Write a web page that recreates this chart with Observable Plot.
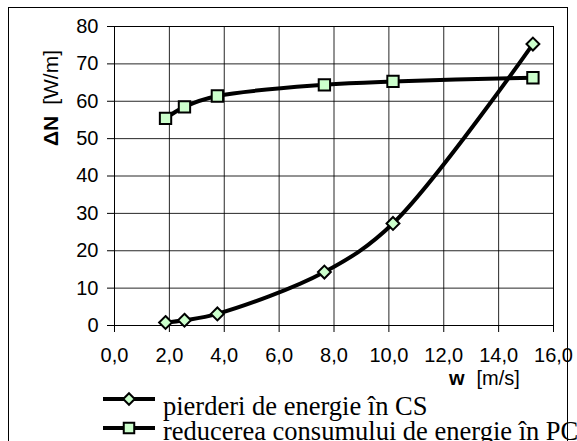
<!DOCTYPE html>
<html><head><meta charset="utf-8">
<script src="https://cdn.jsdelivr.net/npm/d3@7"></script>
<script src="https://cdn.jsdelivr.net/npm/@observablehq/plot@0.6"></script>
<style>
body{margin:0;background:#fff;}
#wrap{position:relative;width:577px;height:441px;overflow:hidden;background:#fff;}
#frame{position:absolute;left:8px;top:7px;width:560px;height:480px;border:1px solid #000;border-bottom:none;box-sizing:border-box;pointer-events:none;}
#legend{position:relative;height:51px;font-family:"Liberation Serif","Times New Roman",serif;font-size:26.5px;color:#000;}
.sym{position:absolute;left:100px;}
.txt{position:absolute;left:163px;white-space:nowrap;line-height:30px;}
</style>
</head><body>
<div id="wrap"><div id="chart"></div><div id="legend"></div><div id="frame"></div></div>
<script>
// data
const wSpeed = [1.86, 2.55, 3.75, 7.65, 10.15, 15.25];
const lossCS = [0.8, 1.4, 3.1, 14.3, 27.3, 75.3];
const reductionPC = [55.4, 58.5, 61.4, 64.4, 65.3, 66.3];
const seriesNames = ["pierderi de energie în CS", "reducerea consumului de energie în PC"];
const xTicks = [0, 2, 4, 6, 8, 10, 12, 14, 16];
const yTicks = [0, 10, 20, 30, 40, 50, 60, 70, 80];

const fill = "#ccffcc";
const cs = wSpeed.map((w, i) => ({w, v: lossCS[i]}));
const pc = wSpeed.map((w, i) => ({w, v: reductionPC[i]}));
const fmt = d => d.toFixed(1).replace(".", ",");

const plot = Plot.plot({
  width: 577, height: 390,
  marginLeft: 114, marginRight: 24, marginTop: 26, marginBottom: 65,
  style: {fontFamily: "'Liberation Sans', Arial, sans-serif", fontSize: "20px", color: "#000", background: "transparent"},
  x: {domain: [0, 16]},
  y: {domain: [0, 80]},
  marks: [
    Plot.gridX(xTicks, {stroke: "#000", strokeOpacity: 0.85, strokeWidth: 1}),
    Plot.gridY(yTicks, {stroke: "#000", strokeOpacity: 0.85, strokeWidth: 1}),
    Plot.frame({stroke: "#000", strokeWidth: 1}),
    Plot.axisX(xTicks, {tickSize: 7, tickPadding: 15, tickFormat: fmt, label: null, fontSize: 20}),
    Plot.axisY(yTicks, {tickSize: 7, tickPadding: 9, label: null, fontSize: 20}),
    Plot.line(pc, {x: "w", y: "v", curve: "catmull-rom", stroke: "#000", strokeWidth: 4}),
    Plot.line(cs, {x: "w", y: "v", curve: "catmull-rom", stroke: "#000", strokeWidth: 4}),
    Plot.dot(pc, {x: "w", y: "v", symbol: "square", r: 6.4, fill, stroke: "#000", strokeWidth: 2}),
    Plot.dot(cs, {x: "w", y: "v", symbol: "diamond2", r: 5.8, fill, stroke: "#000", strokeWidth: 2})
  ]
});
document.getElementById("chart").appendChild(plot);

// axis titles with mixed weights
const svg = d3.select(plot);
const yl = svg.append("text")
  .attr("transform", "translate(58,98) rotate(-90)")
  .attr("text-anchor", "middle")
  .attr("font-family", "'Liberation Sans', Arial, sans-serif")
  .attr("font-size", 21).attr("fill", "#000");
yl.append("tspan").attr("font-weight", "bold").text("ΔN");
yl.append("tspan").attr("dx", 11).text("[W/m]");
const xl = svg.append("text")
  .attr("x", 449).attr("y", 385)
  .attr("text-anchor", "start")
  .attr("font-family", "'Liberation Sans', Arial, sans-serif")
  .attr("font-size", 20).attr("fill", "#000");
xl.append("tspan").attr("font-weight", "bold").text("w");
xl.append("tspan").attr("dx", 12).text("[m/s]");

// legend (below the svg, which ends at y=390)
const legend = d3.select("#legend");
const symbols = [d3.symbolDiamond2, d3.symbolSquare];
const symY = [9, 38];   // symbol line centres relative to legend top
const txtBase = [23, 48]; // text baselines
seriesNames.forEach((name, i) => {
  const s = legend.append("svg").attr("class", "sym").style("top", (symY[i] - 10) + "px")
    .attr("width", 60).attr("height", 20);
  s.append("line").attr("x1", 3).attr("x2", 55).attr("y1", 10).attr("y2", 10).attr("stroke", "#000").attr("stroke-width", 4);
  s.append("path").attr("transform", "translate(29,10)")
    .attr("d", d3.symbol(symbols[i], i === 1 ? 110 : 85)())
    .attr("fill", fill).attr("stroke", "#000").attr("stroke-width", 2);
  legend.append("div").attr("class", "txt").style("top", (txtBase[i] - 22) + "px").text(name);
});
</script>
</body></html>
